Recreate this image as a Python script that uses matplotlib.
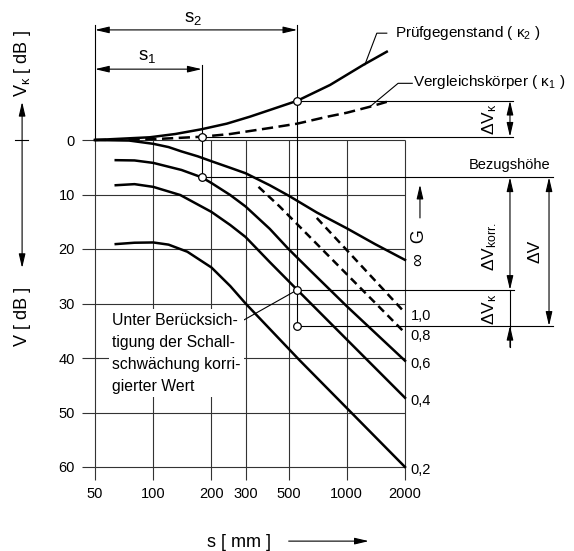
import matplotlib
matplotlib.use("Agg")
import matplotlib.pyplot as plt
from matplotlib.ticker import NullLocator

plt.rcParams['font.family'] = ['Liberation Sans', 'DejaVu Sans']
plt.rcParams['mathtext.fontset'] = 'custom'
plt.rcParams['mathtext.rm'] = 'Liberation Sans'
plt.rcParams['mathtext.it'] = 'Liberation Sans:italic'

# axes ticks
s_ticks = [50, 100, 200, 300, 500, 1000, 2000]
v_ticks = [0, 10, 20, 30, 40, 50, 60]

# DGS curves (s in mm, V in dB, downwards positive)
s_inf = [50, 75, 100, 120, 140, 170, 200, 250, 300, 400, 500, 700, 1000, 1400, 2000]
v_inf = [0, 0.1, 0.7, 1.3, 2.1, 3.0, 3.9, 5.1, 6.1, 8.3, 10.2, 13.3, 16.2, 19.1, 22.0]

s_g06 = [64, 80, 100, 140, 178, 200, 250, 300, 400, 500, 650, 1000, 2000]
v_g06 = [3.7, 3.75, 4.2, 5.5, 6.85, 7.9, 10.1, 12.2, 16.3, 20.0, 24.0, 30.5, 40.5]

s_g04 = [64, 80, 100, 138, 200, 250, 300, 400, 555, 1000, 2000]
v_g04 = [8.3, 8.1, 8.6, 10.1, 13.2, 15.6, 17.8, 22.4, 27.5, 36.6, 47.3]

s_g02 = [64, 80, 100, 120, 150, 200, 250, 300, 570, 2000]
v_g02 = [19.1, 18.85, 18.8, 19.2, 20.5, 23.4, 26.8, 30.0, 40.4, 60.0]

s_g10 = [700, 1000, 2000]
v_g10 = [14.3, 20.2, 31.7]

s_g08 = [350, 450, 2000]
v_g08 = [8.6, 12.2, 35.4]

g_labels = ['1,0', '0,8', '0,6', '0,4', '0,2']
g_ends = [v_g10[-1], v_g08[-1], v_g06[-1], v_g04[-1], v_g02[-1]]

# sound attenuation curves (Vk, upwards negative)
s_k2 = [50, 96, 130, 177, 240, 316, 400, 555, 820, 1220, 1610]
v_k2 = [0, -0.5, -1.1, -1.96, -3.0, -4.28, -5.5, -7.2, -10.1, -13.8, -16.2]

s_k1 = [50, 100, 178, 250, 316, 400, 555, 800, 1000, 1317, 1610]
v_k1 = [0, -0.15, -0.6, -1.1, -1.65, -2.2, -3.0, -4.3, -5.0, -6.1, -7.0]

s1 = 178
s2 = 555
v_k1_s1 = -0.6
v_k2_s2 = -7.2
v_ref = 6.85
v_meas = 27.5
v_corr = v_meas + (v_k1_s1 - v_k2_s2)

fig = plt.figure(figsize=(5.74, 5.51), dpi=100)
ax = fig.add_axes([95 / 574, (551 - 467) / 551, 310 / 574, 327 / 551])
ax.set_xscale('log')
ax.set_xlim(50, 2000)
ax.set_ylim(60, 0)
ax.patch.set_visible(False)
for sp in ax.spines.values():
    sp.set_visible(False)
ax.xaxis.set_minor_locator(NullLocator())
ax.set_xticks(s_ticks)
ax.set_xticklabels([str(t) for t in s_ticks])
ax.set_yticks(v_ticks)
ax.set_yticklabels([str(t) for t in v_ticks])
ax.tick_params(direction='out', length=9.4, width=0.8, color='#333333', labelsize=10.5, pad=5)

grid_c = '#333333'
ax.vlines(s_ticks, 0, 60, colors=grid_c, lw=0.8, clip_on=False, zorder=1)
ax.hlines(v_ticks, 50, 2000, colors=grid_c, lw=0.8, clip_on=False, zorder=1)

lw_c = 1.8
kw = dict(color='black', lw=lw_c, clip_on=False, zorder=3)
ax.plot(s_inf, v_inf, **kw)
ax.plot(s_g06, v_g06, **kw)
ax.plot(s_g04, v_g04, **kw)
ax.plot(s_g02, v_g02, **kw)
ax.plot(s_g10, v_g10, ls=(0, (3.2, 2.0)), **kw)
ax.plot(s_g08, v_g08, ls=(0, (3.2, 2.0)), **kw)
ax.plot(s_k2, v_k2, **kw)
ax.plot(s_k1, v_k1, ls=(0, (4.5, 2.2)), **kw)

for lab, v in zip(g_labels, g_ends):
    ax.annotate(lab, xy=(2000, v), xytext=(4, -2.5), textcoords='offset points',
                fontsize=10.5, ha='left', va='center', annotation_clip=False)

thin = dict(color='black', lw=0.8, clip_on=False, zorder=2)

# reference / extension lines
ax.plot([50, 50], [0, -21.1], **thin)
ax.plot([s1, s1], [-13.8, v_ref], **thin)
ax.plot([s2, s2], [-21.1, v_corr], **thin)
ax.plot([s2, 7250], [v_k2_s2, v_k2_s2], **thin)
ax.plot([s1, 7250], [v_k1_s1, v_k1_s1], **thin)
ax.plot([s1, 11640], [v_ref, v_ref], **thin)
ax.plot([s2, 7350], [v_meas, v_meas], **thin)
ax.plot([s2, 11640], [v_corr, v_corr], **thin)


def arrow(p0, p1, style='<|-|>'):
    ax.annotate('', xy=p1, xytext=p0, annotation_clip=False,
                arrowprops=dict(arrowstyle=style + ',head_length=0.85,head_width=0.2',
                                mutation_scale=10, color='black', lw=0.8,
                                shrinkA=0, shrinkB=0))


arrow((50, -20.2), (s2, -20.2))
arrow((50, -13.0), (s1, -13.0))
ax.text(160, -22.3, r's$_{\mathrm{2}}$', fontsize=13.5, ha='center', va='center')
ax.text(93, -15.4, r's$_{\mathrm{1}}$', fontsize=13.5, ha='center', va='center')

# dimension arrows on the right
arrow((6975, v_k2_s2), (6975, v_k1_s1))
arrow((6975, v_ref), (6975, v_meas))
ax.plot([6975, 6975], [v_meas, 38.0], **thin)
arrow((6975, 38.0), (6975, v_corr), style='-|>')
arrow((11100, v_ref), (11100, v_corr))

ax.text(5500, -3.85, r'ΔV$_{\mathrm{\kappa}}$', rotation=90, fontsize=12.5, ha='center', va='center')
ax.text(5500, 19.6, r'ΔV$_{\mathrm{korr.}}$', rotation=90, fontsize=12.5, ha='center', va='center')
ax.text(9400, 20.4, 'ΔV', rotation=90, fontsize=12.5, ha='center', va='center')
ax.text(5500, 31.0, r'ΔV$_{\mathrm{\kappa}}$', rotation=90, fontsize=12.5, ha='center', va='center')
ax.text(11250, 4.6, 'Bezugshöhe', fontsize=10.5, ha='right', va='center')

# G arrow
ax.text(2390, 19.7, '∞  G', rotation=90, fontsize=13, ha='center', va='center')
arrow((2390, 14.3), (2390, 8.2), style='-|>')

# curve labels
ax.plot([1240, 1430, 1610], [-13.8, -19.6, -19.6], **thin)
ax.text(1768, -19.6, r'Prüfgegenstand ( $\mathrm{\kappa_2}$ )', fontsize=11, ha='left', va='center')
ax.plot([1317, 1842, 2180], [-6.1, -10.4, -10.4], **thin)
ax.text(2190, -10.6, r'Vergleichskörper ( $\mathrm{\kappa_1}$ )', fontsize=11, ha='left', va='center')

# corrected value note
ax.plot([s2, 288], [v_meas, 33.2], **thin)
ax.text(61.5, 31.7, 'Unter Berücksich-\ntigung der Schall-\nschwächung korri-\ngierter Wert',
        fontsize=11.3, ha='left', va='top', linespacing=1.58, zorder=2,
        bbox=dict(boxstyle='square,pad=0.22', facecolor='white', edgecolor='none'))

# circles
ax.plot([s1, s1, s2, s2, s2], [v_k1_s1, v_ref, v_k2_s2, v_meas, v_corr], 'o', ms=5.5,
        mfc='white', mec='black', mew=0.9, clip_on=False, zorder=6)

# left axis labels
ax.text(21, -14.1, r'V$_{\mathrm{\kappa}}$ [ dB ]', rotation=90, fontsize=13, ha='center', va='center')
ax.text(21, 32.3, 'V [ dB ]', rotation=90, fontsize=13, ha='center', va='center')
arrow((21, 23.5), (21, -7.0))
ax.plot([19.3, 22.5], [0, 0], **thin)

# bottom axis label
ax.text(277, 73.8, 's [ mm ]', fontsize=13, ha='center', va='center')
arrow((501, 73.6), (1300, 73.6), style='-|>')

fig.savefig('out.png', dpi=100)
